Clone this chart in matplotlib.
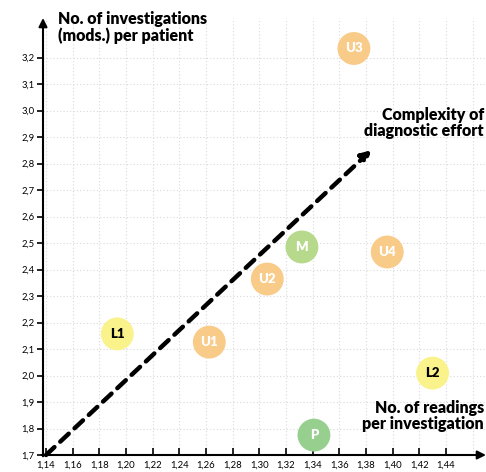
import matplotlib
matplotlib.use("Agg")
import matplotlib.pyplot as plt
import numpy as np

labels = ["U3", "M", "U4", "U2", "L1", "U1", "L2", "P"]
x_vals = [1.371, 1.332, 1.396, 1.306, 1.1935, 1.2625, 1.430, 1.341]
y_vals = [3.234, 2.485, 2.466, 2.364, 2.157, 2.126, 2.009, 1.775]
colors = ["#F9CB88", "#B6D98C", "#F9CB88", "#F9CB88", "#FAF28A", "#F9CB88", "#FAF28A", "#97CF8F"]
text_colors = ["white", "white", "white", "white", "black", "white", "black", "white"]

x_ticks = [1.14, 1.16, 1.18, 1.20, 1.22, 1.24, 1.26, 1.28, 1.30, 1.32, 1.34, 1.36, 1.38, 1.40, 1.42, 1.44]
y_ticks = [1.7, 1.8, 1.9, 2.0, 2.1, 2.2, 2.3, 2.4, 2.5, 2.6, 2.7, 2.8, 2.9, 3.0, 3.1, 3.2]
trend_start = (1.14, 1.70)
trend_end = (1.384, 2.85)

plt.rcParams['font.family'] = ['Lato', 'DejaVu Sans']

fig = plt.figure(figsize=(4.86, 4.72), dpi=100)
ax = fig.add_axes([43/486, 1 - 455/472, (486 - 43)/486, (455 - 18)/472])
xmin = 1.14 - 3/1333
xmax = xmin + (486 - 43)/1333
ax.set_xlim(xmin, xmax)
ymin = 1.7
ymax = ymin + (455 - 18)/265
ax.set_ylim(ymin, ymax)

for s in ['top', 'right', 'left', 'bottom']:
    ax.spines[s].set_visible(False)

# grid
grid_x = x_ticks + [1.46]
for gx in grid_x:
    ax.axvline(gx, color="#d9d9d9", lw=0.8, ls=(0, (1, 2)), zorder=0)
for gy in y_ticks:
    ax.axhline(gy, color="#d9d9d9", lw=0.8, ls=(0, (1, 2)), zorder=0)

# axes arrows
ax.annotate("", xy=(xmin, ymax), xytext=(xmin, ymin - 0.005),
            arrowprops=dict(arrowstyle="-|>,head_length=0.5,head_width=0.25", lw=1.5, color="black",
                            shrinkA=0, shrinkB=0), annotation_clip=False)
ax.annotate("", xy=(xmax, ymin), xytext=(xmin - 0.001, ymin),
            arrowprops=dict(arrowstyle="-|>,head_length=0.5,head_width=0.25", lw=1.5, color="black",
                            shrinkA=0, shrinkB=0), annotation_clip=False)

ax.set_xticks(x_ticks)
ax.set_xticklabels([f"{v:.2f}".replace(".", ",") for v in x_ticks])
ax.set_yticks(y_ticks)
ax.set_yticklabels([f"{v:.1f}".replace(".", ",") for v in y_ticks])
ax.tick_params(axis='x', direction='in', length=5, width=1.2, labelsize=6.8, pad=4)
ax.tick_params(axis='y', direction='out', length=4, width=1.2, labelsize=6.8, pad=2)

# trend dashed arrow
ax.annotate("", xy=trend_end, xytext=trend_start,
            arrowprops=dict(arrowstyle="-|>,head_length=0.55,head_width=0.3", lw=3.2, color="black",
                            ls=(0, (2.6, 1.8)), shrinkA=0, shrinkB=0), zorder=2)

ax.scatter(x_vals, y_vals, s=560, c=colors, edgecolors='none', zorder=3)
for x, y, l, tc in zip(x_vals, y_vals, labels, text_colors):
    ax.text(x, y, l, ha='center', va='center', color=tc, fontsize=9.5, fontweight='heavy', zorder=4)

fig.text(58/486, 1 - 11/472, "No. of investigations\n(mods.) per patient", ha='left', va='top',
         fontsize=11.5, fontweight='heavy', linespacing=1.0)
fig.text(484/486, 1 - 107/472, "Complexity of\ndiagnostic effort", ha='right', va='top',
         fontsize=11.5, fontweight='heavy', linespacing=1.0)
fig.text(484/486, 1 - 400/472, "No. of readings\nper investigation", ha='right', va='top',
         fontsize=11.5, fontweight='heavy', linespacing=1.0)

fig.savefig("out.png", dpi=100)
